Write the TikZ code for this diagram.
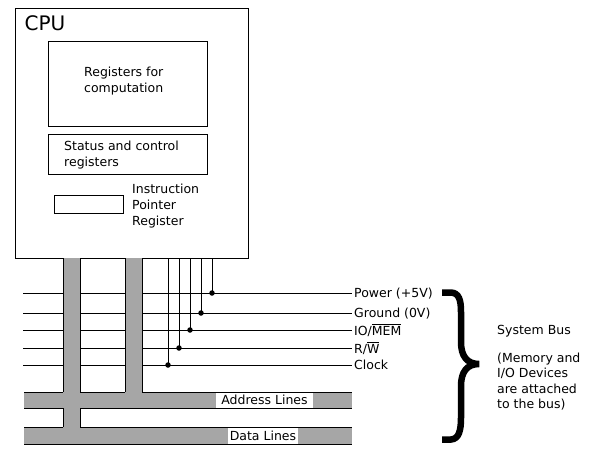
\documentclass[tikz,border=0pt]{standalone}
\usepackage{fontspec}
\setmainfont{DejaVu Sans}
\tikzset{
  box/.style={draw, line width=1pt},
  txt/.style={font=\fontsize{12.5}{16}\selectfont, inner sep=0pt, align=left},
  sig/.style={line width=1pt},
  busfill/.style={fill=black!35},
  busedge/.style={line width=1pt},
  dot/.style={circle, fill, inner sep=0pt, minimum size=5.5pt},
}
\begin{document}
\begin{tikzpicture}[x=1pt, y=-1pt]
\fill[white] (0,0) rectangle (595,456);
\useasboundingbox (0,0) rectangle (595,456);

% CPU
\draw[box] (15,8) rectangle (248,258);
\node[font=\fontsize{20}{20}\selectfont, inner sep=0pt, anchor=base west] (cpu) at (24.5,30) {CPU};
\draw[box] (48,41.5) rectangle (207,126);
\node[txt, anchor=base west] (regc) at (84,92.5) {Registers for\\computation};
\draw[box] (48,134) rectangle (207,174);
\node[txt, anchor=base west] (stat) at (64,166.5) {Status and control\\registers};
\draw[box] (54,195) rectangle (123,213);
\node[txt, anchor=base west] (ipr) at (132,225.5) {Instruction\\Pointer\\Register};

% signal coordinates
\coordinate (cpuB1) at (168,258);
\coordinate (cpuB2) at (179,258);
\coordinate (cpuB3) at (190,258);
\coordinate (cpuB4) at (201,258);
\coordinate (cpuB5) at (212,258);
\coordinate (l1) at (23,293);
\coordinate (l2) at (23,313);
\coordinate (l3) at (23,330);
\coordinate (l4) at (23,348);
\coordinate (l5) at (23,365);
\coordinate (r1) at (352,293);
\coordinate (r2) at (352,313);
\coordinate (r3) at (352,330);
\coordinate (r4) at (352,348);
\coordinate (r5) at (352,365);

\draw[sig] (l1) -- (r1);
\draw[sig] (l2) -- (r2);
\draw[sig] (l3) -- (r3);
\draw[sig] (l4) -- (r4);
\draw[sig] (l5) -- (r5);

\node[dot] (d1) at (212,293) {};
\node[dot] (d2) at (201,313) {};
\node[dot] (d3) at (190,330) {};
\node[dot] (d4) at (179,348) {};
\node[dot] (d5) at (168,365) {};
\draw[sig] (cpuB5) -- (d1.center);
\draw[sig] (cpuB4) -- (d2.center);
\draw[sig] (cpuB3) -- (d3.center);
\draw[sig] (cpuB2) -- (d4.center);
\draw[sig] (cpuB1) -- (d5.center);

% labels
\node[txt, anchor=base west] (pw) at (354,297.5) {Power (+5V)};
\node[txt, anchor=base west] (gd) at (354,317.5) {Ground (0V)};
\node[txt, anchor=base west] (io) at (354,335) {IO/$\overline{\hbox{MEM}}$};
\node[txt, anchor=base west] (rw) at (354,353) {R/$\overline{\hbox{W}}$};
\node[txt, anchor=base west] (ck) at (354,369) {Clock};

% buses (fill)
\fill[busfill] (63,258) rectangle (80,427.5);
\fill[busfill] (125,258) rectangle (142,392.5);
\fill[busfill] (24,392) rectangle (352,408);
\fill[busfill] (24,427) rectangle (352,444);

% bus labels
\fill[white] (216,392.5) rectangle (313,407.5);
\node[txt, anchor=base] (addr) at (264.5,404.5) {Address Lines};
\fill[white] (228,427.5) rectangle (298,443.5);
\node[txt, anchor=base] (data) at (263,440) {Data Lines};

% bus edges
\draw[busedge] (63,258) -- (63,392) (80,258) -- (80,392);
\draw[busedge] (63,408) -- (63,427) (80,408) -- (80,427);
\draw[busedge] (125,258) -- (125,392) (142,258) -- (142,392);
\draw[busedge] (24,392) -- (63,392) (80,392) -- (125,392) (142,392) -- (352,392);
\draw[busedge] (24,408) -- (63,408) (80,408) -- (352,408);
\draw[busedge] (24,427) -- (63,427) (80,427) -- (352,427);
\draw[busedge] (24,444) -- (352,444);

% brace
\draw[line width=6.5pt, line join=miter] (442,292.5) -- (451,292.5)
  .. controls (459,293) and (461,300) .. (461,312) -- (461,342)
  .. controls (461,356) and (467,364) .. (479,364)
  .. controls (467,364) and (461,372) .. (461,386) -- (461,418)
  .. controls (461,430) and (459,439) .. (451,439.5) -- (442,439.5);

% system bus text
\node[txt, anchor=base west] (sb) at (497,334.5) {System Bus};
\node[txt, anchor=base west, font=\fontsize{12.5}{15.3}\selectfont] (sbn) at (497,408.4) {(Memory and\\I/O Devices\\are attached\\to the bus)};
\end{tikzpicture}
\end{document}
